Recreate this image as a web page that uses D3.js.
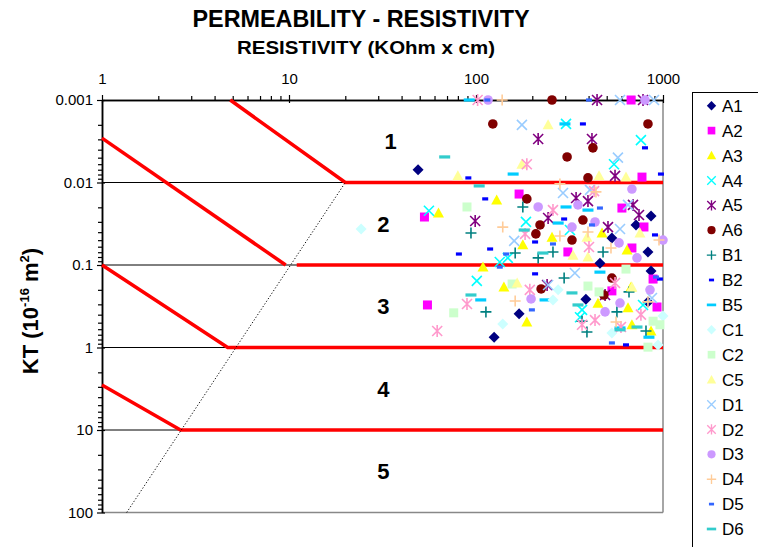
<!DOCTYPE html>
<html>
<head>
<meta charset="utf-8">
<script src="https://cdn.jsdelivr.net/npm/d3@7"></script>
<style>
  body { margin: 0; background: #fff; }
  text { font-family: "Liberation Sans", Arial, sans-serif; }
</style>
</head>
<body>
<div id="chart"></div>
<script>
// axis ticks
const xTicks = [1, 10, 100, 1000];
const yTicks = [0.001, 0.01, 0.1, 1, 10, 100];
const classBounds = [0.01, 0.1, 1, 10];
const zoneNames = ["1", "2", "3", "4", "5"];
const zoneMid = [0.00316, 0.0316, 0.316, 3.16, 31.6];

// class boundary lines (resistivity, KT)
const bound1 = [[4.85, 0.001], [20, 0.01], [1000, 0.01]];
const bound2 = [[1, 0.0029], [9.6, 0.1]];
const bound2h = [[11, 0.1], [1000, 0.1]];
const bound3 = [[1, 0.1], [4.7, 1], [1000, 1]];
const bound4 = [[1, 2.85], [2.63, 10], [1000, 10]];
const dotted = [[1.355, 100], [20, 0.01]];

// series: [resistivity, KT]
const A1 = [[49, 0.007], [170, 0.39], [125, 0.75], [387, 0.26], [863, 0.0255], [831, 0.0695], [863, 0.118], [717, 0.0327], [533, 0.047], [831, 0.28], [460, 0.095]];
const A2 = [[53, 0.0262], [55, 0.305], [170, 0.0138], [772, 0.0086], [603, 0.0204], [675, 0.001], [791, 0.0346], [682, 0.0622], [310, 0.0695], [885, 0.148], [929, 0.323], [533, 0.206]];
const A3 = [[63, 0.0234], [129, 0.0163], [109, 0.106], [141, 0.185], [187, 0.49], [178, 0.057], [255, 0.046], [472, 0.041], [642, 0.066], [650, 0.33], [682, 0.53], [863, 0.63], [449, 0.29], [675, 0.185]];
const A4 = [[56, 0.022], [303, 0.00195], [762, 0.00306], [547, 0.006], [185, 0.030], [101, 0.156], [134, 0.092], [148, 0.082], [369, 0.35], [318, 0.0377], [360, 0.43], [782, 0.305]];
const A5 = [[215, 0.00297], [417, 0.00297], [444, 0.001], [782, 0.001], [554, 0.0083], [343, 0.0154], [397, 0.0168], [691, 0.0187], [744, 0.0248], [99, 0.0293], [243, 0.0269], [508, 0.0347], [240, 0.175], [490, 0.231]];
const A6 = [[255, 0.001], [123, 0.00195], [831, 0.00195], [307, 0.0049], [422, 0.0038], [397, 0.0088], [187, 0.0158], [220, 0.0327], [209, 0.042], [326, 0.0498], [373, 0.0285], [223, 0.195], [483, 0.231], [533, 0.144]];
const B1 = [[178, 0.0198], [94, 0.041], [162, 0.0716], [215, 0.082], [258, 0.0695], [478, 0.0695], [296, 0.144], [658, 0.212], [113, 0.37], [369, 0.48], [392, 0.65], [567, 0.37], [811, 0.63]];
const B2 = [[91, 0.0088], [112, 0.0158], [373, 0.00195], [801, 0.0038], [975, 0.0079], [81, 0.0736], [119, 0.064], [207, 0.0526], [296, 0.0277], [906, 0.0432], [963, 0.148], [634, 0.93], [207, 0.128]];
const B5 = [[92, 0.001], [158, 0.0079], [299, 0.00195], [303, 0.0198], [397, 0.0216], [106, 0.265], [275, 0.031], [234, 0.265], [589, 0.58], [841, 0.75], [460, 0.122]];
const C1 = [[24.3, 0.0366], [139, 0.52], [258, 0.265], [275, 0.2], [533, 0.667], [1000, 0.415], [940, 0.93]];
const C2 = [[89.5, 0.0198], [76, 0.38], [156, 0.17], [397, 0.18], [455, 0.212], [634, 0.112], [885, 0.48], [963, 0.53], [831, 0.99]];
const C5 = [[80, 0.0083], [176, 0.006], [243, 0.002], [455, 0.0083], [634, 0.0086], [166, 0.165], [392, 0.046], [753, 0.041], [330, 0.076], [397, 0.08], [682, 0.185]];
const D1 = [[176, 0.002], [589, 0.001], [895, 0.001], [574, 0.005], [292, 0.0134], [407, 0.0123], [650, 0.0187], [160, 0.051], [338, 0.125], [589, 0.0366], [243, 0.175], [873, 0.251]];
const D2 = [[102, 0.001], [187, 0.006], [428, 0.0127], [89.5, 0.297], [183, 0.042], [258, 0.0216], [402, 0.0605], [554, 0.165], [194, 0.2], [433, 0.465], [762, 0.4], [596, 0.565], [369, 0.53], [62, 0.63]];
const D3 = [[116, 0.001], [801, 0.001], [351, 0.0187], [682, 0.012], [215, 0.0198], [326, 0.0347], [433, 0.0301], [582, 0.054], [726, 0.082], [1000, 0.0498], [852, 0.2], [589, 0.289], [490, 0.37], [197, 0.258]];
const D4 = [[138, 0.001], [281, 0.0104], [438, 0.013], [139, 0.0347], [162, 0.273], [281, 0.0445], [397, 0.0398], [527, 0.0622], [952, 0.0498], [831, 0.28], [561, 0.49]];
const D5 = [[115, 0.001], [402, 0.001], [460, 0.0204], [145, 0.0736], [134, 0.106], [258, 0.0556], [417, 0.0327], [918, 0.14], [199, 0.35], [533, 0.88]];
const D6 = [[68, 0.0049], [104, 0.011], [181, 0.0377], [94, 0.231], [228, 0.0716], [326, 0.218], [351, 0.305], [726, 0.565], [589, 0.61]];

const seriesNames = ["A1", "A2", "A3", "A4", "A5", "A6", "B1", "B2", "B5", "C1", "C2", "C5", "D1", "D2", "D3", "D4", "D5", "D6"];
const seriesData = [A1, A2, A3, A4, A5, A6, B1, B2, B5, C1, C2, C5, D1, D2, D3, D4, D5, D6];
const seriesColors = ["#000080", "#FF00FF", "#FFFF00", "#00FFFF", "#800080", "#800000", "#008080", "#0000FF", "#00CCFF",
  "#CCFFFF", "#CCFFCC", "#FFFF99", "#99CCFF", "#FF99CC", "#CC99FF", "#FFCC99", "#3366FF", "#33CCCC"];
const seriesShapes = ["diamond", "square", "triangle", "x", "star", "circle", "plus", "dash", "longdash",
  "diamond", "square", "triangle", "x", "star", "circle", "plus", "dash", "longdash"];

const width = 758, height = 547;
const svg = d3.select("#chart").append("svg")
  .attr("width", width)
  .attr("height", height);

const x = d3.scaleLog().domain([1, 1000]).range([102, 663]);
const y = d3.scaleLog().domain([0.001, 100]).range([100, 512.5]);

// titles
svg.append("text")
  .attr("x", 361).attr("y", 27)
  .attr("text-anchor", "middle")
  .attr("textLength", 337).attr("lengthAdjust", "spacingAndGlyphs")
  .style("font-family", "'Liberation Sans Narrow', 'Liberation Sans', Arial, sans-serif")
  .style("font-size", "23px").style("font-weight", "bold")
  .text("PERMEABILITY - RESISTIVITY");

svg.append("text")
  .attr("x", 366).attr("y", 54)
  .attr("text-anchor", "middle")
  .attr("textLength", 258).attr("lengthAdjust", "spacingAndGlyphs")
  .style("font-family", "'Liberation Sans Narrow', 'Liberation Sans', Arial, sans-serif")
  .style("font-size", "18px").style("font-weight", "bold")
  .text("RESISTIVITY (KOhm x cm)");

// y axis title
const yt = svg.append("text")
  .attr("transform", "translate(38,311) rotate(-90)")
  .attr("text-anchor", "middle")
  .style("font-size", "22px").style("font-weight", "bold");
yt.append("tspan").text("KT (10");
yt.append("tspan").attr("dy", -9).style("font-size", "13px").text("-16");
yt.append("tspan").attr("dy", 9).text(" m");
yt.append("tspan").attr("dy", -9).style("font-size", "13px").text("2");
yt.append("tspan").attr("dy", 9).text(")");

// grid lines at class boundaries
svg.append("g").selectAll("line")
  .data(classBounds)
  .enter().append("line")
  .attr("x1", x(1)).attr("x2", x(1000))
  .attr("y1", d => y(d)).attr("y2", d => y(d))
  .attr("stroke", "#000").attr("stroke-width", 1);

// frame (bottom + right in grey)
svg.append("line").attr("x1", x(1)).attr("x2", x(1000)).attr("y1", y(100)).attr("y2", y(100))
  .attr("stroke", "#888").attr("stroke-width", 1.5);
svg.append("line").attr("x1", x(1000)).attr("x2", x(1000)).attr("y1", y(0.001)).attr("y2", y(100))
  .attr("stroke", "#888").attr("stroke-width", 1.5);

// minor ticks
const xMinor = [];
const yMinor = [];
[1, 10, 100].forEach(d => { for (let k = 2; k <= 9; k++) xMinor.push(d * k); });
[0.001, 0.01, 0.1, 1, 10].forEach(d => { for (let k = 2; k <= 9; k++) yMinor.push(d * k); });

const xAxisMinor = svg.append("g").attr("transform", `translate(0,${y(0.001)})`)
  .call(d3.axisTop(x).tickValues(xMinor).tickFormat("").tickSize(4).tickSizeOuter(0));
const xAxis = svg.append("g").attr("transform", `translate(0,${y(0.001)})`)
  .call(d3.axisTop(x).tickValues(xTicks).tickFormat(d => d).tickSize(5).tickPadding(11).tickSizeOuter(0));
xAxis.selectAll(".tick").append("line").attr("y2", 3).attr("stroke", "#000");

const yAxisMinor = svg.append("g").attr("transform", `translate(${x(1)},0)`)
  .call(d3.axisLeft(y).tickValues(yMinor).tickFormat("").tickSize(4).tickSizeOuter(0));
const yAxis = svg.append("g").attr("transform", `translate(${x(1)},0)`)
  .call(d3.axisLeft(y).tickValues(yTicks).tickFormat(d => String(d)).tickSize(5).tickPadding(4).tickSizeOuter(0));
yAxis.selectAll(".tick").append("line").attr("x2", 3).attr("stroke", "#000");

[xAxis, yAxis, xAxisMinor, yAxisMinor].forEach(a => {
  a.selectAll("path").attr("stroke", "#000").attr("stroke-width", 1.5);
  a.selectAll("line").attr("stroke", "#000").attr("stroke-width", 1.2);
  a.selectAll("text").style("font-size", "15px").attr("fill", "#000")
    .style("font-family", "'Liberation Sans', Arial, sans-serif");
});

// red class boundaries
const line = d3.line().x(d => x(d[0])).y(d => y(d[1]));
[bound1, bound2, bound2h, bound3, bound4].forEach(b => {
  svg.append("path").attr("d", line(b))
    .attr("fill", "none").attr("stroke", "#FF0000").attr("stroke-width", 3.5);
});
svg.append("path").attr("d", line(dotted))
  .attr("fill", "none").attr("stroke", "#000").attr("stroke-width", 1)
  .attr("stroke-dasharray", "1.2,2");

// zone numbers
svg.append("g").selectAll("text")
  .data(zoneNames)
  .enter().append("text")
  .attr("x", (d, i) => x(i === 0 ? 35 : 32))
  .attr("y", (d, i) => y(zoneMid[i]))
  .attr("dy", "0.36em")
  .attr("text-anchor", "middle")
  .style("font-size", "22px").style("font-weight", "bold")
  .text(d => d);

// marker drawing
function drawMarker(g, shape, color) {
  if (shape === "diamond") {
    g.append("path").attr("d", "M0,-5.5L5.5,0L0,5.5L-5.5,0Z").attr("fill", color);
  } else if (shape === "square") {
    g.append("rect").attr("x", -4.5).attr("y", -4.5).attr("width", 9).attr("height", 9).attr("fill", color);
  } else if (shape === "triangle") {
    g.append("path").attr("d", "M0,-5.5L5.5,4.5L-5.5,4.5Z").attr("fill", color);
  } else if (shape === "circle") {
    g.append("circle").attr("r", 4.8).attr("fill", color);
  } else if (shape === "x") {
    g.append("path").attr("d", "M-5,-5L5,5M-5,5L5,-5").attr("stroke", color).attr("stroke-width", 1.6);
  } else if (shape === "star") {
    g.append("path").attr("d", "M-5,-5L5,5M-5,5L5,-5M0,-6L0,6").attr("stroke", color).attr("stroke-width", 1.6);
  } else if (shape === "plus") {
    g.append("path").attr("d", "M-5.5,0L5.5,0M0,-5.5L0,5.5").attr("stroke", color).attr("stroke-width", 1.6);
  } else if (shape === "dash") {
    g.append("rect").attr("x", -3).attr("y", -1.6).attr("width", 6).attr("height", 3.2).attr("fill", color);
  } else if (shape === "longdash") {
    g.append("rect").attr("x", -5.5).attr("y", -1.6).attr("width", 11).attr("height", 3.2).attr("fill", color);
  }
}

// scatter series
seriesData.forEach((data, i) => {
  const sg = svg.append("g");
  sg.selectAll("g")
    .data(data)
    .enter().append("g")
    .attr("transform", d => `translate(${x(d[0])},${y(d[1])})`)
    .each(function () { drawMarker(d3.select(this), seriesShapes[i], seriesColors[i]); });
});

// legend
const legend = svg.append("g");
legend.append("rect")
  .attr("x", 692.5).attr("y", 92.5).attr("width", 120).attr("height", 500)
  .attr("fill", "#fff").attr("stroke", "#000").attr("stroke-width", 1);
seriesNames.forEach((name, i) => {
  const ly = 105.7 + i * 24.9;
  const mg = legend.append("g").attr("transform", `translate(711.5,${ly}) scale(0.85)`);
  drawMarker(mg, seriesShapes[i], seriesColors[i]);
  legend.append("text")
    .attr("x", 722).attr("y", ly).attr("dy", "0.36em")
    .style("font-size", "17px").attr("fill", "#000")
    .text(name);
});
</script>
</body>
</html>
